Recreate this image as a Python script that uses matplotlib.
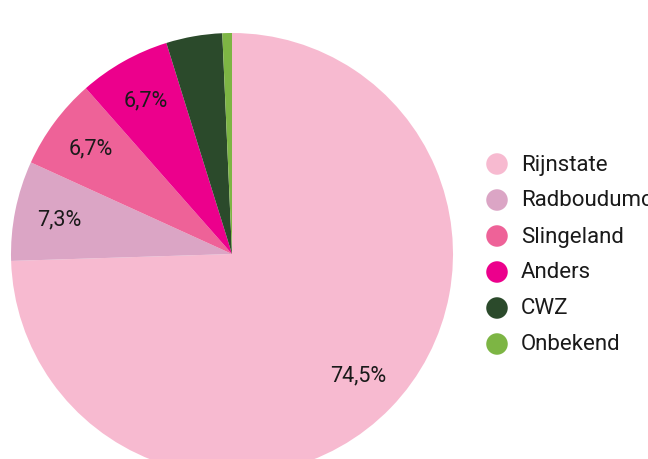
import matplotlib
matplotlib.use("Agg")
import matplotlib.pyplot as plt

categories = ["Rijnstate", "Radboudumc", "Slingeland", "Anders", "CWZ", "Onbekend"]
values = [74.5, 7.3, 6.7, 6.7, 4.1, 0.7]
colors = ["#F7BAD0", "#DBA5C5", "#EE6298", "#EC008C", "#2B4A2B", "#7DB544"]

plt.rcParams['font.family'] = ['Roboto', 'DejaVu Sans']

W, H = 648, 459
fig = plt.figure(figsize=(W / 100, H / 100), dpi=100)
ax = fig.add_axes([0, 0, 1, 1])

def fmt(p):
    return (f"{p:.1f}".replace('.', ',') + "%") if p >= 5 else ""

wedges, texts, autotexts = ax.pie(
    values, colors=colors, startangle=90, counterclock=False,
    center=(232, H - 254), radius=221, autopct=fmt, pctdistance=0.795,
    wedgeprops=dict(linewidth=0), textprops=dict(fontsize=15.5, color="#1a1a1a"),
    frame=True)
ax.set_xlim(0, W)
ax.set_ylim(0, H)
ax.set_aspect('equal')
ax.axis('off')

# legend
lx, ly0, dy = 497, 164, 36
for i, (cat, col) in enumerate(zip(categories, colors)):
    y = H - (ly0 + i * dy)
    ax.scatter([lx], [y], s=240, color=col, edgecolors='none', clip_on=False)
    ax.text(lx + 24, y - 1, cat, fontsize=16, va='center', ha='left', color="#1a1a1a")

fig.savefig("out.png", dpi=100)
